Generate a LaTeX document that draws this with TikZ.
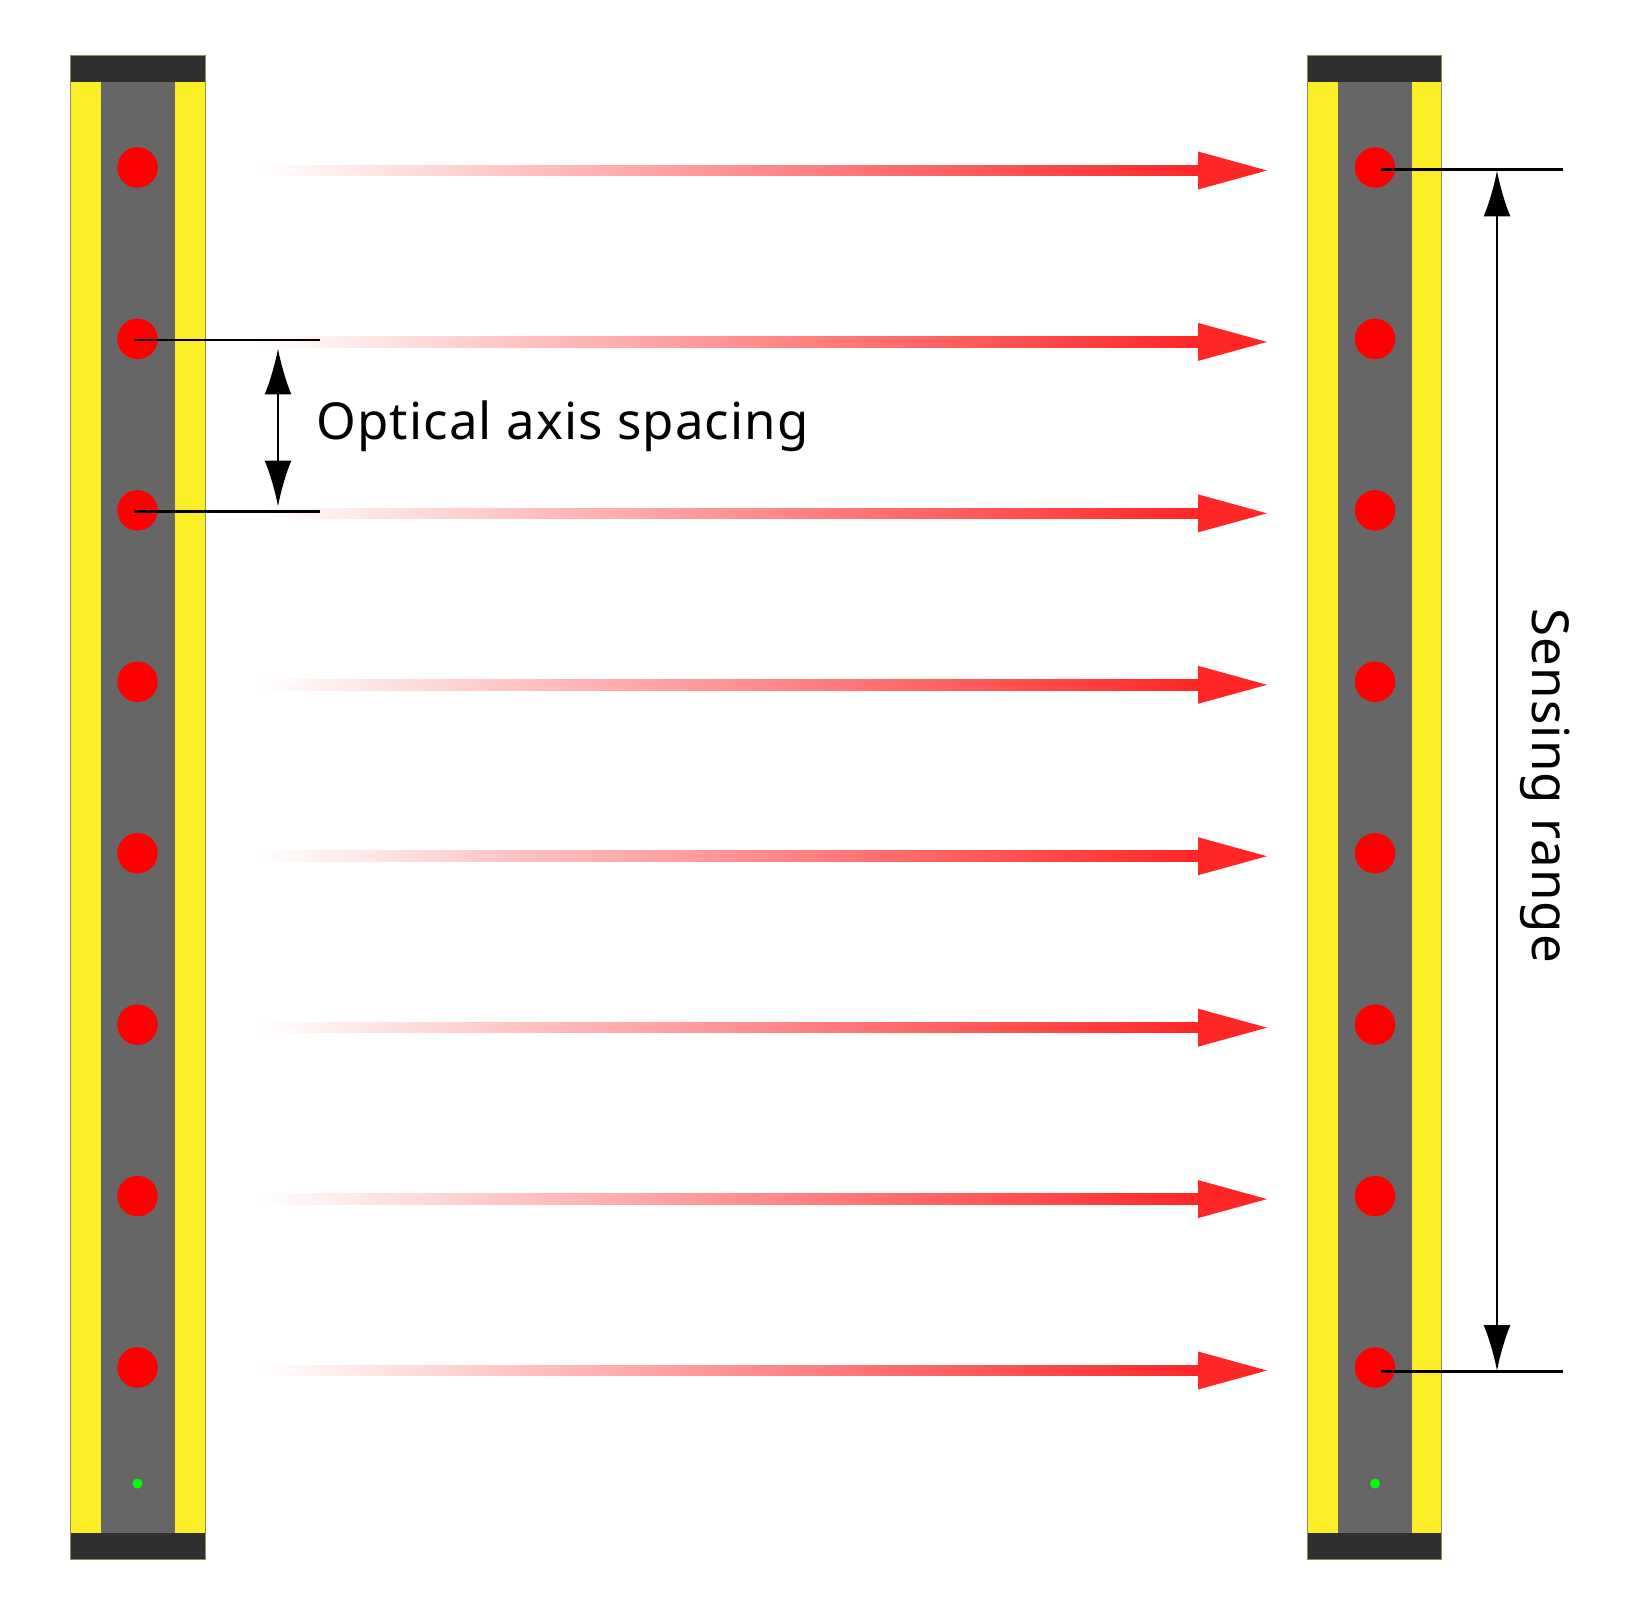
\documentclass[tikz,border=0pt]{standalone}
\usepackage{fontspec}
\setmainfont[LetterSpace=2.2]{Noto Sans}
\usetikzlibrary{arrows.meta}
\definecolor{raycolor}{HTML}{FF2626}
\definecolor{barcolor}{HTML}{FCEE26}
\definecolor{bodycolor}{HTML}{666666}
\definecolor{capcolor}{HTML}{2F2F2F}
\definecolor{edgecolor}{HTML}{8E8E5A}
\tikzset{
  beamdot/.style={circle,fill=red,inner sep=0pt,minimum size=.81cm},
  statusdot/.style={circle,fill=green,inner sep=0pt,minimum size=.2cm},
  leader/.style={line width=.055cm},
  dimline/.style={line width=.05cm,{Latex[length=.92cm,width=.54cm]}-{Latex[length=.92cm,width=.54cm]}},
  dimtext/.style={font=\fontsize{29}{29}\selectfont,inner sep=0pt}
}
\begin{document}
\begin{tikzpicture}[x=.02cm,y=-.02cm]
  \useasboundingbox (0,0) rectangle (1633,1609);
  \foreach \side/\xa/\xc/\xd in {l/70.5/137.5/137.5,r/1307/1374.5/1375}{
    \fill[barcolor] (\xa,82) rectangle ++(134.5,1451);
    \fill[bodycolor] (\xc-37,82) rectangle (\xc+37,1533);
    \fill[capcolor] (\xa,55) rectangle ++(134.5,27);
    \fill[capcolor] (\xa,1533) rectangle ++(134.5,26.5);
    \draw[edgecolor,line width=.02cm] (\xa,55) rectangle ++(134.5,1504.5);
    \foreach \i in {1,...,8}
      \node[beamdot] (dot\side\i) at (\xd,167.5+171.43*\i-171.43) {};
    \node[statusdot] (led\side) at (\xd,1483.5) {};
  }
  % beams
  \foreach \i in {1,...,8}{
    \coordinate (beam\i) at (258,170.5+171.43*\i-171.43);
    \coordinate (tip\i) at (1267,170.5+171.43*\i-171.43);
    \shade[left color=white,right color=raycolor] ([yshift=-.105cm]beam\i) rectangle ([xshift=-1.38cm,yshift=.105cm]tip\i);
    \fill[raycolor] (tip\i) -- ([xshift=-1.38cm,yshift=.38cm]tip\i) -- ([xshift=-1.38cm,yshift=-.38cm]tip\i) -- cycle;
  }
  % left dimension
  \coordinate (sa) at (134,340);
  \coordinate (sb) at (320,340);
  \coordinate (sc) at (134,511.5);
  \coordinate (sd) at (320,511.5);
  \coordinate (se) at (278,348.5);
  \coordinate (sf) at (278,506.5);
  \draw[leader] (sa) -- (sb);
  \draw[leader] (sc) -- (sd);
  \draw[dimline] (se) -- (sf);
  \node[dimtext,anchor=base west] (spacing) at (316,439) {Optical axis spacing};
  % right dimension
  \coordinate (ra) at (1381,169.5);
  \coordinate (rb) at (1563,169.5);
  \coordinate (rc) at (1381,1371.5);
  \coordinate (rd) at (1563,1371.5);
  \coordinate (re) at (1497,170.5);
  \coordinate (rf) at (1497,1371);
  \draw[leader] (ra) -- (rb);
  \draw[leader] (rc) -- (rd);
  \draw[dimline] (re) -- (rf);
  \node[dimtext,rotate=-90,anchor=center] (range) at (1545,786) {Sensing range};
\end{tikzpicture}
\end{document}
